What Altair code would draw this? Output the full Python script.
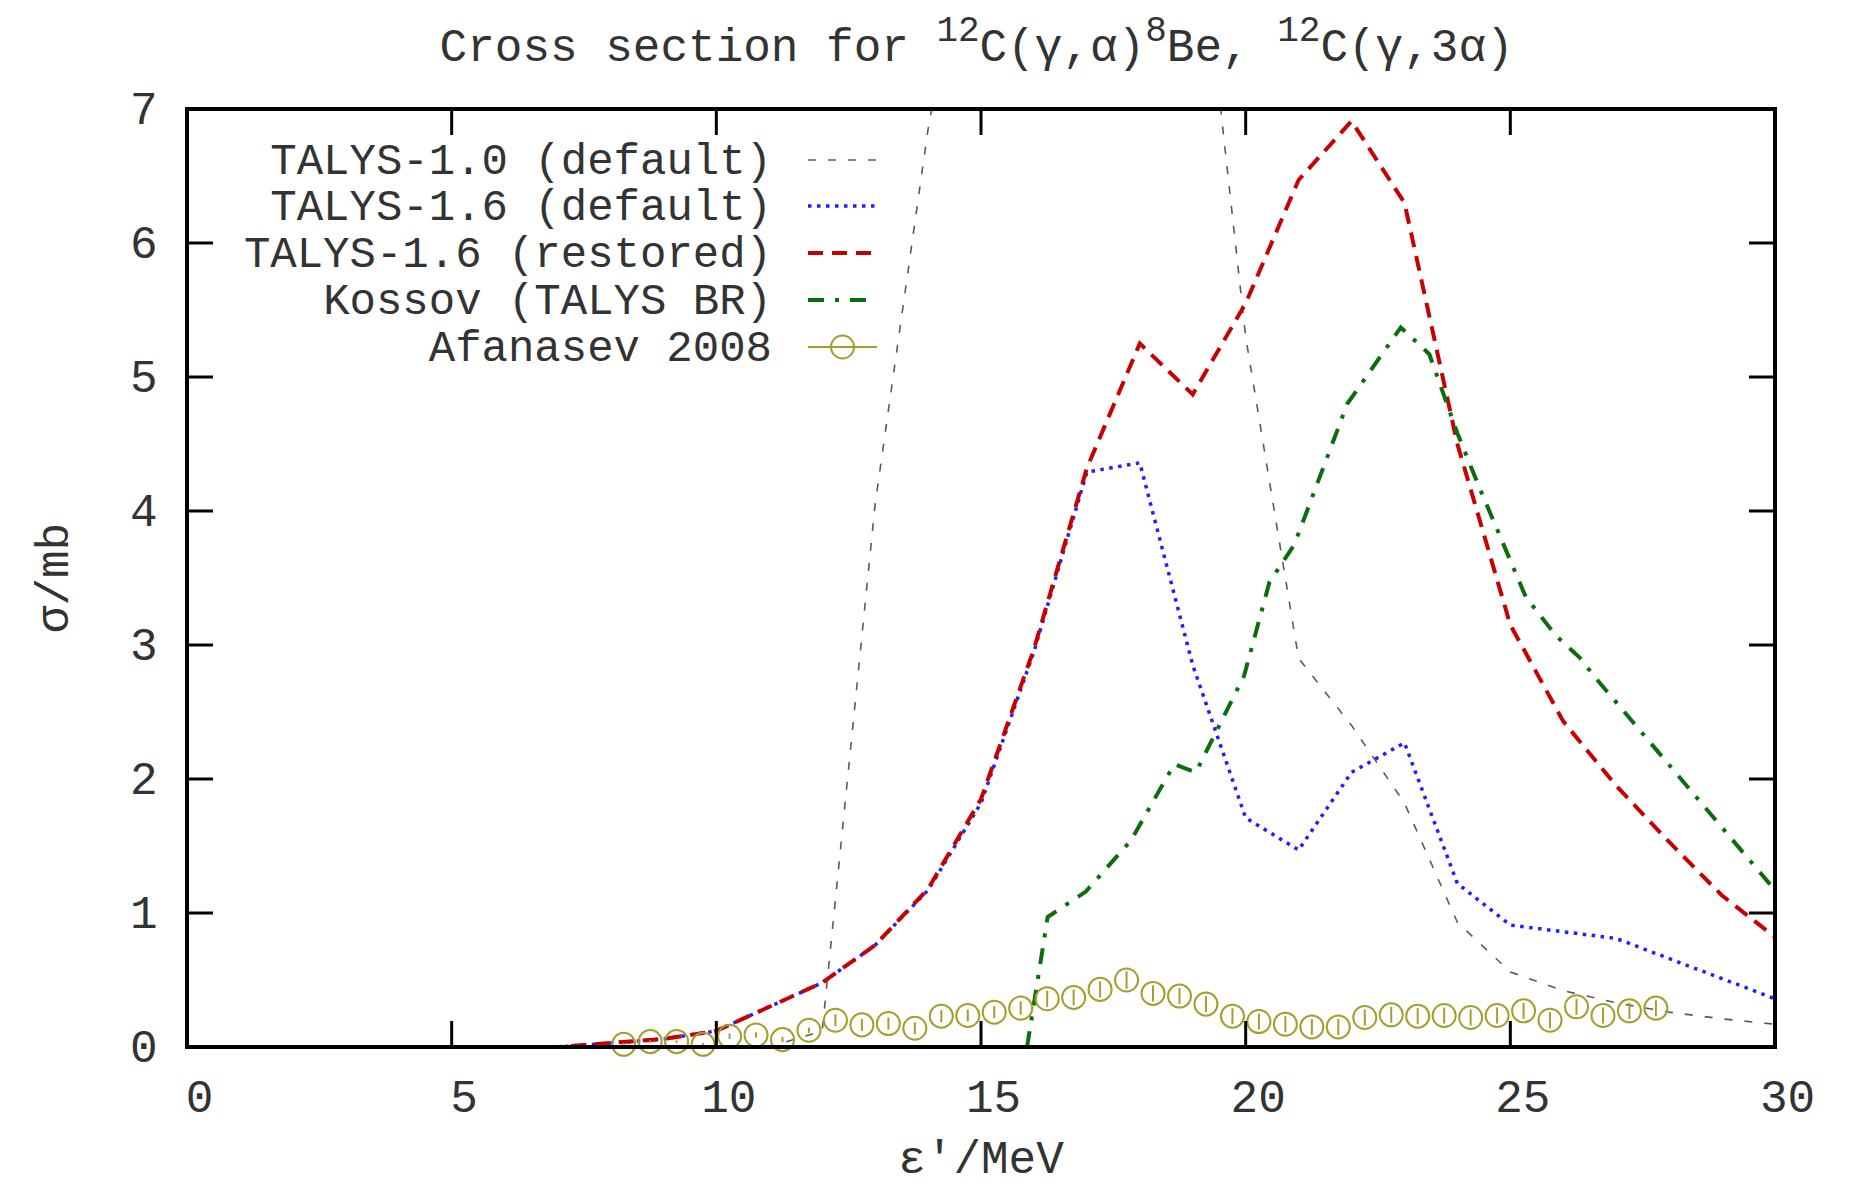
import altair as alt
import pandas as pd

# ---------------- data ----------------
energy = [0, 1, 2, 3, 4, 5, 6, 7, 8, 9, 10, 11, 12, 13, 14, 15,
          16, 17, 18, 19, 20, 21, 22, 23, 24, 25, 26, 27, 28, 29, 30]
talys10_default = [0, 0, 0, 0, 0, 0, 0, 0, 0, 0, 0, 0, 0.12, 4.05, 6.85, 9.0,
                   11.0, 12.0, 11.0, 8.9, 5.3, 2.9, 2.4, 1.82, 0.93, 0.56, 0.42, 0.33, 0.26, 0.21, 0.17]
talys16_default = [0, 0, 0, 0, 0, 0, 0, 0, 0.03, 0.06, 0.12, 0.3, 0.48, 0.76, 1.17, 1.82,
                   2.95, 4.29, 4.36, 2.85, 1.71, 1.47, 2.05, 2.27, 1.22, 0.91, 0.86, 0.81, 0.66, 0.51, 0.36]
talys16_restored = [0, 0, 0, 0, 0, 0, 0, 0, 0.03, 0.06, 0.12, 0.3, 0.48, 0.76, 1.18, 1.85,
                    2.97, 4.32, 5.25, 4.87, 5.55, 6.47, 6.91, 6.3, 4.5, 3.15, 2.43, 1.95, 1.53, 1.13, 0.82]

kossov_e = [15.87, 16.26, 16.98, 17.83, 18.65, 19.06, 19.97, 20.45, 20.92, 21.92,
            22.93, 23.47, 24.0, 24.41, 25.29, 25.86, 26.3, 26.62, 30.0]
kossov_sigma = [0.0, 0.97, 1.16, 1.54, 2.11, 2.05, 2.77, 3.47, 3.75, 4.80,
                5.37, 5.17, 4.58, 4.18, 3.36, 3.07, 2.91, 2.75, 1.17]

afanasev_e = [8.25, 8.75, 9.25, 9.75, 10.25, 10.75, 11.25, 11.75, 12.25, 12.75,
              13.25, 13.75, 14.25, 14.75, 15.25, 15.75, 16.25, 16.75, 17.25, 17.75,
              18.25, 18.75, 19.25, 19.75, 20.25, 20.75, 21.25, 21.75, 22.25, 22.75,
              23.25, 23.75, 24.25, 24.75, 25.25, 25.75, 26.25, 26.75, 27.25, 27.75]
afanasev_sigma = [0.02, 0.04, 0.04, 0.02, 0.08, 0.09, 0.055, 0.125, 0.2, 0.165,
                  0.175, 0.14, 0.23, 0.235, 0.26, 0.29, 0.36, 0.37, 0.43, 0.50,
                  0.40, 0.38, 0.32, 0.23, 0.19, 0.17, 0.15, 0.15, 0.22, 0.24,
                  0.23, 0.235, 0.22, 0.235, 0.27, 0.20, 0.30, 0.235, 0.27, 0.29]
afanasev_err = [0.01, 0.01, 0.01, 0.01, 0.02, 0.02, 0.02, 0.02, 0.045, 0.045,
                0.045, 0.045, 0.045, 0.045, 0.045, 0.05, 0.06, 0.06, 0.06, 0.065,
                0.06, 0.06, 0.06, 0.06, 0.06, 0.06, 0.06, 0.06, 0.06, 0.06,
                0.06, 0.06, 0.06, 0.06, 0.06, 0.06, 0.06, 0.06, 0.06, 0.06]

x_ticks = [0, 5, 10, 15, 20, 25, 30]
y_ticks = [0, 1, 2, 3, 4, 5, 6, 7]

legend_labels = ["TALYS-1.0 (default)", "TALYS-1.6 (default)", "TALYS-1.6 (restored)",
                 "Kossov (TALYS BR)", "Afanasev 2008"]
title_pieces = [("Cross section for ", False), ("12", True), ("C(γ,α)", False), ("8", True),
                ("Be, ", False), ("12", True), ("C(γ,3α)", False)]

# ---------------- layout / style ----------------
W, H = 1588, 938
FONT = "Liberation Mono"
FS = 46
LFS = 44
TXT = "#333333"
TICK = 26

GRAY = "#5a5a5a"
BLUE = "#1f1fff"
RED = "#c80000"
GREEN = "#0a6e0a"
OLIVE = "#a49f2c"

styles = [
    dict(color=GRAY, strokeWidth=1.6, strokeDash=[8, 12]),
    dict(color=BLUE, strokeWidth=3.5, strokeDash=[3.5, 5.5]),
    dict(color=RED, strokeWidth=4, strokeDash=[15, 9]),
    dict(color=GREEN, strokeWidth=4, strokeDash=[16, 11, 4, 11]),
]

xscale = alt.Scale(domain=[0, 30], nice=False, zero=False)
yscale = alt.Scale(domain=[0, 7], nice=False, zero=False)
xaxis = alt.Axis(values=x_ticks, ticks=False, tickSize=0, domain=False, grid=False,
                 labelFont=FONT, labelFontSize=FS, labelColor=TXT, labelPadding=28,
                 labelOffset=12, labelFlush=False, labelOverlap=False, format="d")
yaxis = alt.Axis(values=y_ticks, ticks=False, tickSize=0, domain=False, grid=False,
                 labelFont=FONT, labelFontSize=FS, labelColor=TXT, labelPadding=30,
                 labelFlush=False, labelOverlap=False, format="d")


def ex(field="x"):
    return alt.X(f"{field}:Q", scale=xscale, axis=xaxis, title="")


def ey(field="y"):
    return alt.Y(f"{field}:Q", scale=yscale, axis=yaxis, title="")


one = pd.DataFrame({"d": [0]})
layers = []

# ---- curves ----
curve_sets = [(energy, talys10_default), (energy, talys16_default),
              (energy, talys16_restored), (kossov_e, kossov_sigma)]
for (xs, ys), st in zip(curve_sets, styles):
    df = pd.DataFrame({"x": xs, "y": ys})
    layers.append(
        alt.Chart(df).mark_line(clip=True, strokeCap="butt", **st).encode(x=ex(), y=ey())
    )

# ---- Afanasev data points with error bars ----
afa = pd.DataFrame({"x": afanasev_e, "y": afanasev_sigma, "err": afanasev_err})
afa["lo"] = afa["y"] - afa["err"]
afa["hi"] = afa["y"] + afa["err"]
layers.append(
    alt.Chart(afa).mark_rule(color=OLIVE, strokeWidth=2).encode(
        x=ex(), y=ey("lo"), y2=alt.Y2("hi:Q"))
)
layers.append(
    alt.Chart(afa).mark_point(shape="circle", filled=False, size=531, color=OLIVE,
                              strokeWidth=2, opacity=1).encode(x=ex(), y=ey())
)

# ---- inward ticks on all four sides ----
xt = pd.DataFrame({"x": x_ticks})
yt = pd.DataFrame({"y": y_ticks})
layers.append(alt.Chart(xt).mark_rule(color="black", strokeWidth=3).encode(
    x=ex(), y=alt.value(H), y2=alt.value(H - TICK)))
layers.append(alt.Chart(xt).mark_rule(color="black", strokeWidth=3).encode(
    x=ex(), y=alt.value(0), y2=alt.value(TICK)))
layers.append(alt.Chart(yt).mark_rule(color="black", strokeWidth=3).encode(
    y=ey(), x=alt.value(0), x2=alt.value(TICK)))
layers.append(alt.Chart(yt).mark_rule(color="black", strokeWidth=3).encode(
    y=ey(), x=alt.value(W), x2=alt.value(W - TICK)))

# ---- frame on top ----
layers.append(alt.Chart(one).mark_rect(filled=False, stroke="black", strokeWidth=4).encode(
    x=alt.value(0), x2=alt.value(W), y=alt.value(0), y2=alt.value(H)))

# ---- legend (gnuplot style: label left, sample right) ----
row_y = [51, 97, 144, 191, 238]
lab_x = 585
s_x0, s_x1 = 621, 690
for i, lab in enumerate(legend_labels):
    layers.append(alt.Chart(one).mark_text(align="right", baseline="alphabetic", font=FONT,
                                           fontSize=LFS, color=TXT).encode(
        x=alt.value(lab_x), y=alt.value(row_y[i] + 14), text=alt.value(lab)))
    if i < 4:
        layers.append(alt.Chart(one).mark_rule(strokeCap="butt", **styles[i]).encode(
            x=alt.value(s_x0), x2=alt.value(s_x1), y=alt.value(row_y[i])))
    else:
        layers.append(alt.Chart(one).mark_rule(color=OLIVE, strokeWidth=2).encode(
            x=alt.value(s_x0), x2=alt.value(s_x1), y=alt.value(row_y[i])))
        layers.append(alt.Chart(one).mark_point(shape="circle", filled=False, size=531,
                                                color=OLIVE, strokeWidth=2, opacity=1).encode(
            x=alt.value((s_x0 + s_x1) / 2), y=alt.value(row_y[i])))

# ---- title with superscripts ----
cur = 252.6
for txt, sup in title_pieces:
    fs = 36 if sup else FS
    layers.append(alt.Chart(one).mark_text(align="left", baseline="alphabetic", font=FONT,
                                           fontSize=fs, color=TXT).encode(
        x=alt.value(cur), y=alt.value(-68 if sup else -48), text=alt.value(txt)))
    cur += len(txt) * 0.6 * fs

# ---- axis titles ----
layers.append(alt.Chart(one).mark_text(align="center", baseline="alphabetic", font=FONT,
                                       fontSize=FS, color=TXT).encode(
    x=alt.value(W / 2), y=alt.value(H + 126), text=alt.value("ε′/MeV")))
layers.append(alt.Chart(one).mark_text(align="center", baseline="alphabetic", font=FONT,
                                       fontSize=FS, color=TXT, angle=270).encode(
    x=alt.value(-119), y=alt.value(H / 2), text=alt.value("σ/mb")))

chart = alt.layer(*layers).properties(
    width=W, height=H,
    autosize=alt.AutoSizeParams(type="none"),
    padding={"left": 187, "top": 109, "right": 85, "bottom": 142},
    background="white",
).configure_view(strokeWidth=0)

chart.save("out.html", embed_options={"renderer": "svg", "actions": False})
